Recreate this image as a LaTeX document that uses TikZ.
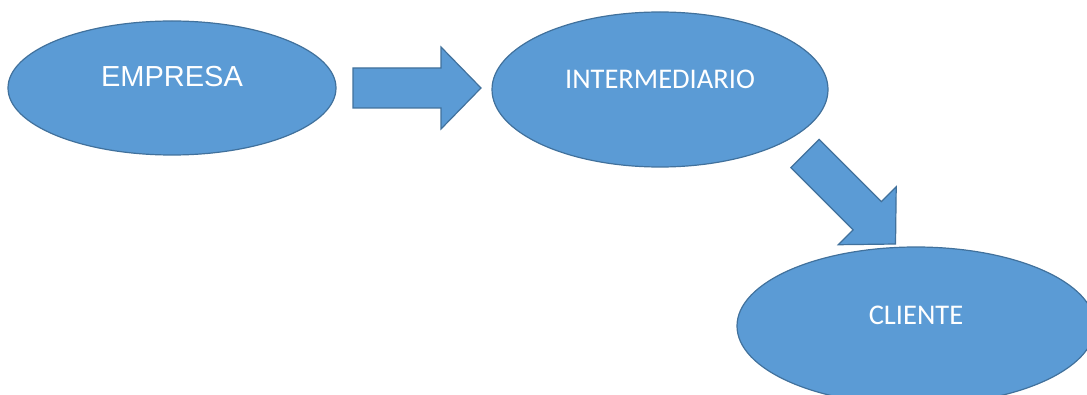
\documentclass[tikz,border=0pt]{standalone}
\usepackage{fontspec}
\setmainfont{Liberation Sans}
\newfontfamily\calibri{Carlito}
\usetikzlibrary{shapes.geometric}

\definecolor{azul}{HTML}{5B9BD5}
\definecolor{borde}{HTML}{41719C}

\tikzset{
  elipse/.style={ellipse, draw=borde, fill=azul, line width=1.2pt, inner sep=0pt},
  texto/.style={text=white, inner sep=0pt},
  flecha/.style={draw=borde, fill=azul, line width=1.2pt, line join=miter}
}

\begin{document}
\begin{tikzpicture}[x=1pt, y=1pt]
  \useasboundingbox (0,0) rectangle (1087,394);
  \clip (0,0) rectangle (1087,394);

  % elipses
  \node[elipse, minimum width=328pt, minimum height=134pt] (empresa) at (172,306) {};
  \node[elipse, minimum width=336pt, minimum height=155pt] (intermediario) at (660,304.5) {};
  \node[elipse, minimum width=358pt, minimum height=158pt] (cliente) at (916,68) {};

  % textos
  \node[texto, font=\fontsize{29}{34}\selectfont] (tempresa) at ([yshift=11.5pt]empresa.center) {EMPRESA};
  \node[texto, font=\calibri\fontsize{28.5}{34}\selectfont] (tintermediario) at ([yshift=10.5pt]intermediario.center) {INTERMEDIARIO};
  \node[texto, font=\calibri\fontsize{28.5}{34}\selectfont] (tcliente) at ([yshift=11pt]cliente.center) {CLIENTE};

  % flechas
  \coordinate (f1) at (353,306);
  \coordinate (f2) at (805,240.5);
  \foreach \c/\ang in {f1/0, f2/-45}
    \draw[flecha, shift={(\c)}, rotate=\ang]
      (0,20) -- (88,20) -- (88,41) -- (128,0) -- (88,-41) -- (88,-20) -- (0,-20) -- cycle;
\end{tikzpicture}
\end{document}
